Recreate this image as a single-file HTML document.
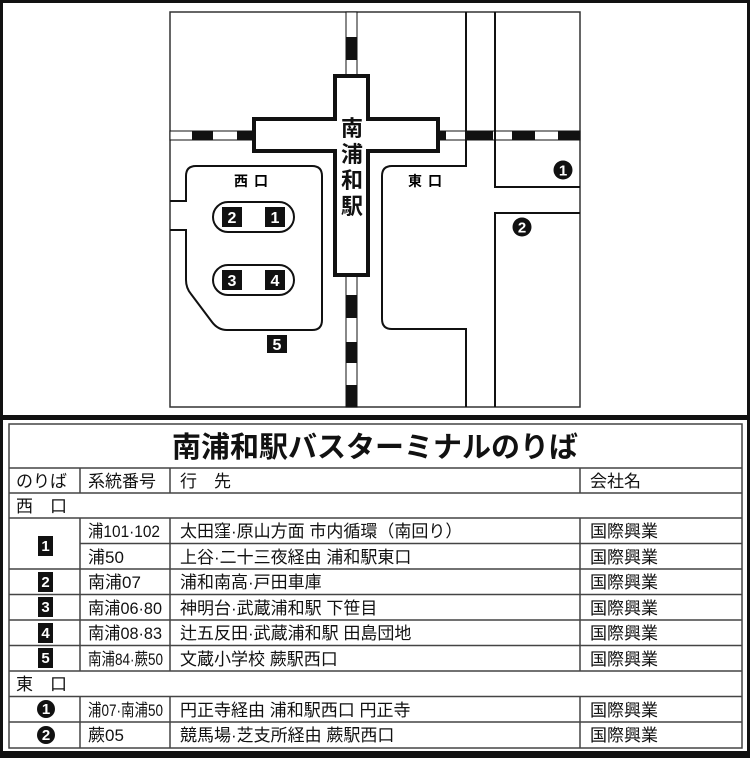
<!DOCTYPE html>
<html><head><meta charset="utf-8"><style>
html,body{margin:0;padding:0;background:#fff}
svg{display:block}
text{font-family:"Liberation Sans","Noto Sans CJK JP",sans-serif}
.t{font-size:17px;fill:#111}
.b{font-weight:bold}
</style></head><body>
<svg width="750" height="758" viewBox="0 0 750 758" xmlns="http://www.w3.org/2000/svg">
<rect x="1.5" y="1.5" width="747" height="755" fill="#fff" stroke="#111" stroke-width="3"/>
<rect x="0" y="415" width="750" height="5" fill="#111"/>
<rect x="0" y="751" width="750" height="7" fill="#111"/>
<rect x="170" y="12" width="410" height="395" fill="#fff" stroke="#333" stroke-width="1.5"/>
<rect x="170" y="131" width="410" height="9" fill="#fff" stroke="#111" stroke-width="1"/>
<g fill="#111">
<rect x="192" y="131" width="21" height="9"/><rect x="237" y="131" width="15" height="9"/>
<rect x="440" y="131" width="6" height="9"/><rect x="467" y="131" width="26" height="9"/>
<rect x="512" y="131" width="23" height="9"/><rect x="558" y="131" width="22" height="9"/>
</g>
<rect x="346" y="12" width="11" height="395" fill="#fff" stroke="#111" stroke-width="1"/>
<g fill="#111">
<rect x="346" y="37" width="11" height="23"/>
<rect x="346" y="295" width="11" height="23"/><rect x="346" y="342" width="11" height="21"/><rect x="346" y="385" width="11" height="22"/>
</g>
<path d="M335 76 H368 V119 H438 V151 H368 V275 H335 V151 H254 V119 H335 Z" fill="#fff" stroke="#111" stroke-width="4"/>
<g font-size="22" class="b" text-anchor="middle" fill="#111">
<text x="352" y="136">南</text>
<text x="352" y="162">浦</text>
<text x="352" y="188">和</text>
<text x="352" y="214">駅</text>
</g>
<path d="M170 201 H186 V176 Q186 166 196 166 H312 Q322 166 322 176 V320 Q322 330 312 330 H227 Q218 330 212 322 L191 294 Q186 288 186 280 V230 H170" fill="none" stroke="#111" stroke-width="2"/>
<text x="254" y="186" text-anchor="middle" font-size="14" class="b" letter-spacing="6">西口</text>
<rect x="213" y="202" width="81" height="30" rx="15" fill="#fff" stroke="#111" stroke-width="2"/>
<rect x="213" y="265" width="81" height="30" rx="15" fill="#fff" stroke="#111" stroke-width="2"/>
<g fill="#111"><rect x="222" y="207" width="20" height="20"/><rect x="265" y="207" width="20" height="20"/>
<rect x="222" y="270" width="20" height="20"/><rect x="265" y="270" width="20" height="20"/>
<rect x="267" y="335" width="20" height="18"/></g>
<g fill="#fff" font-size="16" class="b" text-anchor="middle">
<text x="232" y="223">2</text><text x="275" y="223">1</text><text x="232" y="286">3</text><text x="275" y="286">4</text><text x="277" y="350">5</text></g>
<path d="M466 12 V166 H392 Q382 166 382 176 V319 Q382 329 392 329 H466 V407" fill="none" stroke="#111" stroke-width="2"/>
<path d="M495 12 V187 H580 M580 213 H495 V407" fill="none" stroke="#111" stroke-width="2"/>
<text x="428" y="186" text-anchor="middle" font-size="14" class="b" letter-spacing="6">東口</text>
<circle cx="563" cy="170" r="9.5" fill="#111"/><text x="563" y="175.5" text-anchor="middle" font-size="15" class="b" fill="#fff">1</text>
<circle cx="522" cy="227" r="9.5" fill="#111"/><text x="522" y="232.5" text-anchor="middle" font-size="15" class="b" fill="#fff">2</text>
<g stroke="#444" stroke-width="1.5" fill="none">
<rect x="9" y="424" width="733" height="324"/>
<line x1="9" y1="468" x2="742" y2="468"/><line x1="9" y1="493" x2="742" y2="493"/><line x1="9" y1="518" x2="742" y2="518"/>
<line x1="80" y1="543.5" x2="742" y2="543.5"/>
<line x1="9" y1="569" x2="742" y2="569"/><line x1="9" y1="594.5" x2="742" y2="594.5"/><line x1="9" y1="620" x2="742" y2="620"/>
<line x1="9" y1="645.5" x2="742" y2="645.5"/><line x1="9" y1="671" x2="742" y2="671"/><line x1="9" y1="696.5" x2="742" y2="696.5"/><line x1="9" y1="722" x2="742" y2="722"/>
<line x1="80" y1="468" x2="80" y2="493"/><line x1="170" y1="468" x2="170" y2="493"/><line x1="580" y1="468" x2="580" y2="493"/>
<line x1="80" y1="518" x2="80" y2="671"/><line x1="170" y1="518" x2="170" y2="671"/><line x1="580" y1="518" x2="580" y2="671"/>
<line x1="80" y1="696.5" x2="80" y2="748"/><line x1="170" y1="696.5" x2="170" y2="748"/><line x1="580" y1="696.5" x2="580" y2="748"/>
</g>
<text x="375" y="457" text-anchor="middle" font-size="29" class="b" fill="#111">南浦和駅バスターミナルのりば</text>
<g class="t">
<text x="16" y="487">のりば</text><text x="88" y="487">系統番号</text><text x="180" y="487">行　先</text><text x="590" y="487">会社名</text>
<text x="16" y="512">西　口</text>
<text x="88" y="537" textLength="72" lengthAdjust="spacingAndGlyphs">浦101·102</text><text x="180" y="537">太田窪·原山方面 市内循環（南回り）</text><text x="590" y="537">国際興業</text>
<text x="88" y="563">浦50</text><text x="180" y="563">上谷·二十三夜経由 浦和駅東口</text><text x="590" y="563">国際興業</text>
<text x="88" y="588">南浦07</text><text x="180" y="588">浦和南高·戸田車庫</text><text x="590" y="588">国際興業</text>
<text x="88" y="614" textLength="74" lengthAdjust="spacingAndGlyphs">南浦06·80</text><text x="180" y="614">神明台·武蔵浦和駅 下笹目</text><text x="590" y="614">国際興業</text>
<text x="88" y="639" textLength="74" lengthAdjust="spacingAndGlyphs">南浦08·83</text><text x="180" y="639">辻五反田·武蔵浦和駅 田島団地</text><text x="590" y="639">国際興業</text>
<text x="88" y="665" textLength="75" lengthAdjust="spacingAndGlyphs">南浦84·蕨50</text><text x="180" y="665">文蔵小学校 蕨駅西口</text><text x="590" y="665">国際興業</text>
<text x="16" y="690">東　口</text>
<text x="88" y="716" textLength="75" lengthAdjust="spacingAndGlyphs">浦07·南浦50</text><text x="180" y="716">円正寺経由 浦和駅西口 円正寺</text><text x="590" y="716">国際興業</text>
<text x="88" y="741">蕨05</text><text x="180" y="741">競馬場·芝支所経由 蕨駅西口</text><text x="590" y="741">国際興業</text>
</g>
<g fill="#111">
<rect x="38" y="536" width="15" height="20"/><rect x="38" y="572" width="15" height="20"/><rect x="38" y="597" width="15" height="20"/>
<rect x="38" y="623" width="15" height="20"/><rect x="38" y="648" width="15" height="20"/>
<circle cx="46" cy="709" r="9"/><circle cx="46" cy="735" r="9"/>
</g>
<g fill="#fff" font-size="15" class="b" text-anchor="middle">
<text x="45.5" y="551">1</text><text x="45.5" y="587">2</text><text x="45.5" y="612">3</text><text x="45.5" y="638">4</text><text x="45.5" y="663">5</text>
<text x="46" y="714">1</text><text x="46" y="740">2</text>
</g>
</svg>
</body></html>
